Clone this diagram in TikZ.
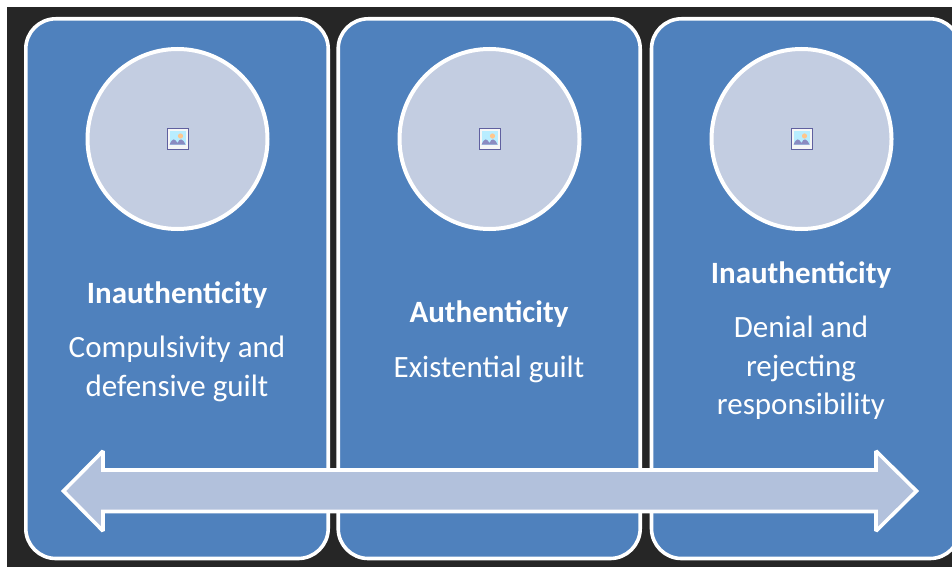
\documentclass[tikz,border=0pt]{standalone}
\usepackage{fontspec}
\setmainfont{Carlito}
\definecolor{panelblue}{HTML}{4F81BD}
\definecolor{circfill}{HTML}{C3CDE1}
\definecolor{arrowfill}{HTML}{B2C1DC}
\definecolor{darkbg}{HTML}{262626}
\tikzset{
  panel/.style={draw=white,line width=3.6pt,fill=panelblue,rounded corners=30pt},
  disc/.style={circle,draw=white,line width=4pt,fill=circfill,minimum size=180pt,inner sep=0pt},
  head/.style={text=white,font=\fontsize{31}{37}\selectfont\bfseries,align=center,inner sep=0pt},
  body/.style={text=white,font=\fontsize{31}{38.5}\selectfont,align=center,inner sep=0pt},
  bigarrow/.style={draw=white,line width=3.6pt,fill=arrowfill,line join=miter,miter limit=2}
}
\newcommand{\picicon}[1]{%
  \begin{scope}[shift={(#1)}]
    \fill[white!93!gray] (-10.5,-10.5) rectangle (10.5,10.5);
    \draw[gray!75!blue,line width=.8pt] (-10.5,-10.5) rectangle (10.5,10.5);
    \fill[blue!25!cyan!28!white] (-8,-8) rectangle (8,5.5);
    \fill[orange!45!white] (3,-3) circle (2.6);
    \fill[blue!30!gray!70!white] (-8,5.5) .. controls (-5,-1) and (-3,-1) .. (0,4) .. controls (2,-1) and (5,-1) .. (8,5.5) -- cycle;
  \end{scope}}
\begin{document}
\begin{tikzpicture}[x=1pt,y=-1pt]
\useasboundingbox (0,0) rectangle (952,567);
\fill[white] (0,0) rectangle (952,567);
\fill[darkbg] (7,7) rectangle (952,567);
\draw[panel] (25.8,18.8) rectangle (328.2,558.5);
\draw[panel] (338.2,18.8) rectangle (640.2,558.5);
\draw[panel] (651.5,18.8) rectangle (960,558.5);
\node[disc] (c1) at (177.5,139) {};
\node[disc] (c2) at (489.5,139) {};
\node[disc] (c3) at (801.5,139) {};
\picicon{c1}
\picicon{c2}
\picicon{c3}
\node[head] (h1) at (177,295) {Inauthenticity};
\node[body] (b1) at (177,369) {Compulsivity and\\defensive guilt};
\node[head] (h2) at (489,314.5) {Authenticity};
\node[body] (b2) at (489,369) {Existential guilt};
\node[head] (h3) at (801,275) {Inauthenticity};
\node[body] (b3) at (801,368) {Denial and\\rejecting\\responsibility};
\draw[bigarrow] (63.5,491) -- (103,451) -- (103,470) -- (876,470) -- (876,451) -- (916.5,491) -- (876,531) -- (876,511.5) -- (103,511.5) -- (103,531) -- cycle;
\end{tikzpicture}
\end{document}
